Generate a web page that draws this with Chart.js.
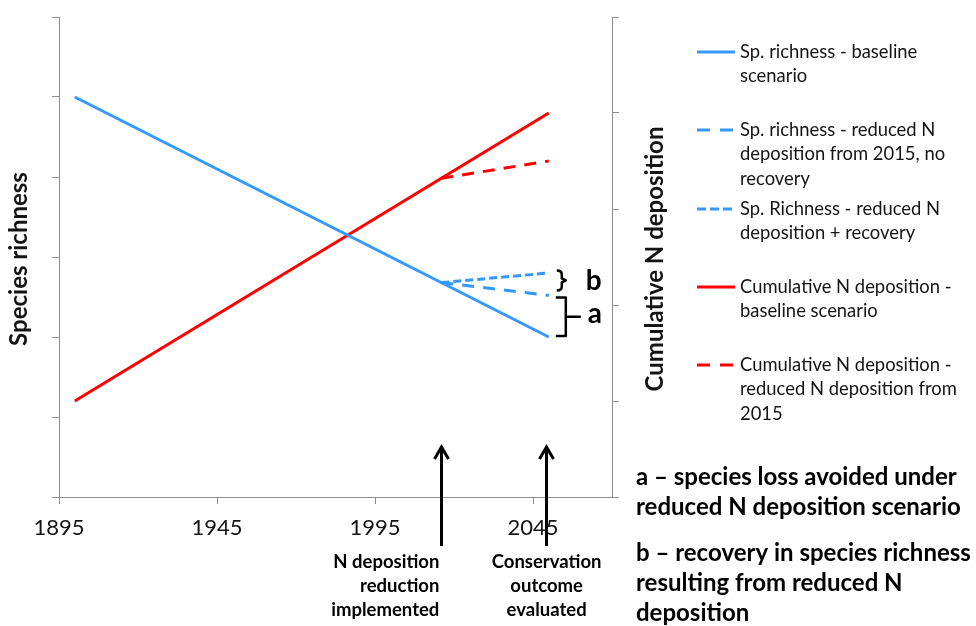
<!DOCTYPE html>
<html><head><meta charset="utf-8">
<script src="https://cdn.jsdelivr.net/npm/chart.js@4/dist/chart.umd.min.js"></script>
<style>html,body{margin:0;padding:0;background:#fff;}canvas{display:block}</style>
</head><body>
<canvas id="c" width="976" height="626"></canvas>
<script>
// ---- data ----
const xTickYears = [1895, 1945, 1995, 2045];
const baselineYears = [1900, 2050];
const reducedYears = [2016, 2050];
const richnessBaseline = [5, 2];
const richnessNoRecovery = [2.68, 2.52];
const richnessRecovery = [2.68, 2.8];
const depositionBaseline = [1, 4];
const depositionReduced = [3.32, 3.5];
const seriesNames = [
  ["Sp. richness - baseline", "scenario"],
  ["Sp. richness - reduced N", "deposition from 2015, no", "recovery"],
  ["Sp. Richness - reduced N", "deposition + recovery"],
  ["Cumulative N deposition -", "baseline scenario"],
  ["Cumulative N deposition -", "reduced N deposition from", "2015"]
];
const leftTitle = "Species richness";
const rightTitle = "Cumulative N deposition";
const arrowYears = [2016, 2049];
const arrowLabels = [["N deposition", "reduction", "implemented"], ["Conservation", "outcome", "evaluated"]];
const notes = [["a \u2013 species loss avoided under", "reduced N deposition scenario"],
               ["b \u2013 recovery in species richness", "resulting from reduced N", "deposition"]];

const BLUE = 'rgb(51,153,255)', RED = 'rgb(255,0,0)', AXIS = '#8c8c8c', TXT = '#141414';
const pts = (xs, ys) => xs.map((x, i) => ({x, y: ys[i]}));
const styles = [
  {color: BLUE, dash: [], axis: 'y'},
  {color: BLUE, dash: [12, 9], axis: 'y'},
  {color: BLUE, dash: [8, 4], axis: 'y'},
  {color: RED, dash: [], axis: 'y2'},
  {color: RED, dash: [12, 9], axis: 'y2'}
];
const seriesData = [
  pts(baselineYears, richnessBaseline),
  pts(reducedYears, richnessNoRecovery),
  pts(reducedYears, richnessRecovery),
  pts(baselineYears, depositionBaseline),
  pts(reducedYears, depositionReduced)
];
const datasets = seriesData.map((d, i) => ({
  label: seriesNames[i].join(' '),
  data: d,
  yAxisID: styles[i].axis,
  borderColor: styles[i].color,
  borderWidth: 3,
  borderDash: styles[i].dash,
  pointRadius: 0,
  fill: false,
  tension: 0
}));

const gridOpts = {drawOnChartArea: false, drawTicks: true, tickLength: 7, color: AXIS, lineWidth: 1};
const borderOpts = {color: AXIS, width: 1};

const annot = {
  id: 'annot',
  afterDatasetsDraw(chart) {
    const ctx = chart.ctx, xs = chart.scales.x, yl = chart.scales.y;
    ctx.save();
    const xe = xs.getPixelForValue(2050);
    const yRec = yl.getPixelForValue(richnessRecovery[1]);
    const yNo = yl.getPixelForValue(richnessNoRecovery[1]);
    const yBase = yl.getPixelForValue(richnessBaseline[1]);
    ctx.strokeStyle = '#000'; ctx.lineWidth = 2.5; ctx.lineJoin = 'round'; ctx.lineCap = 'butt';
    // b brace
    let t = yRec - 2.5, b = yNo - 5, m = (t + b) / 2;
    let x0 = xe + 8, x1 = xe + 13, x2 = xe + 17;
    ctx.beginPath();
    ctx.moveTo(x0, t); ctx.quadraticCurveTo(x1, t, x1, t + 4);
    ctx.lineTo(x1, m - 2); ctx.lineTo(x2, m); ctx.lineTo(x1, m + 2);
    ctx.lineTo(x1, b - 4); ctx.quadraticCurveTo(x1, b, x0, b);
    ctx.stroke();
    // a bracket
    t = yNo + 2; b = yBase - 1; m = (t + b) / 2;
    x0 = xe + 7; x1 = xe + 17;
    ctx.beginPath();
    ctx.moveTo(x0, t); ctx.lineTo(x1, t); ctx.lineTo(x1, b); ctx.lineTo(x0, b);
    ctx.moveTo(x1, m); ctx.lineTo(x1 + 15, m);
    ctx.stroke();
    ctx.fillStyle = '#000';
    ctx.font = 'bold 28px Lato';
    ctx.textAlign = 'left'; ctx.textBaseline = 'alphabetic';
    ctx.fillText('b', xe + 37, yRec + 17);
    ctx.fillText('a', xe + 39, m + 6);
    ctx.restore();
  },
  afterDraw(chart) {
    const ctx = chart.ctx, xs = chart.scales.x, ca = chart.chartArea;
    ctx.save();
    // axis titles
    ctx.fillStyle = TXT;
    ctx.font = 'bold 24px Lato';
    ctx.textAlign = 'center'; ctx.textBaseline = 'middle';
    const cy = (ca.top + ca.bottom) / 2 + 2;
    ctx.save(); ctx.translate(19, cy); ctx.rotate(-Math.PI / 2); ctx.fillText(leftTitle, 0, 0); ctx.restore();
    ctx.save(); ctx.translate(655, cy); ctx.rotate(-Math.PI / 2); ctx.fillText(rightTitle, 0, 0); ctx.restore();

    // arrows
    ctx.strokeStyle = '#000'; ctx.lineWidth = 3; ctx.lineCap = 'butt'; ctx.lineJoin = 'miter';
    arrowYears.forEach(yr => {
      const x = Math.round(xs.getPixelForValue(yr)) + 0.5;
      ctx.beginPath(); ctx.moveTo(x, 546); ctx.lineTo(x, 448); ctx.stroke();
      ctx.beginPath(); ctx.moveTo(x - 7, 459); ctx.lineTo(x, 447); ctx.lineTo(x + 7, 459); ctx.stroke();
    });
    // arrow labels
    ctx.font = 'bold 18.5px Lato'; ctx.fillStyle = '#000'; ctx.textBaseline = 'middle';
    const ax0 = xs.getPixelForValue(arrowYears[0]), ax1 = xs.getPixelForValue(arrowYears[1]);
    arrowLabels[0].forEach((s, i) => { ctx.textAlign = 'right'; ctx.fillText(s, ax0 - 2, 562 + i * 24); });
    arrowLabels[1].forEach((s, i) => { ctx.textAlign = 'center'; ctx.fillText(s, ax1 + 1, 562 + i * 24); });

    // notes
    ctx.font = 'bold 24px Lato'; ctx.textAlign = 'left';
    notes[0].forEach((s, i) => ctx.fillText(s, 636, 477 + i * 30));
    notes[1].forEach((s, i) => ctx.fillText(s, 636, 553 + i * 30));

    // legend
    const legendTops = [52, 130, 209, 287, 365];
    ctx.font = '18.4px Lato'; ctx.fillStyle = TXT; ctx.textAlign = 'left';
    seriesNames.forEach((lines, i) => {
      const y = legendTops[i];
      ctx.strokeStyle = styles[i].color; ctx.lineWidth = 3;
      ctx.setLineDash(styles[i].dash.length ? (i === 2 ? [9, 4] : [13, 10]) : []);
      ctx.beginPath(); ctx.moveTo(697, y); ctx.lineTo(735, y); ctx.stroke();
      ctx.setLineDash([]);
      lines.forEach((s, j) => ctx.fillText(s, 740, y + j * 24.5));
    });
    ctx.restore();
  }
};

new Chart(document.getElementById('c'), {
  type: 'line',
  data: {datasets},
  options: {
    responsive: false,
    animation: false,
    devicePixelRatio: 1,
    layout: {padding: {top: 17, left: 0, right: 0, bottom: 0}},
    plugins: {legend: {display: false}, tooltip: {enabled: false}},
    scales: {
      x: {
        type: 'linear', position: 'bottom', min: 1895, max: 2070,
        afterBuildTicks: s => { s.ticks = xTickYears.map(v => ({value: v})); },
        afterFit: s => { s.height = 129; },
        ticks: {font: {family: 'Lato', size: 22}, color: TXT, padding: 11, maxRotation: 0, autoSkip: false,
                callback: v => String(v)},
        grid: gridOpts, border: borderOpts
      },
      y: {
        type: 'linear', position: 'left', min: 0, max: 6,
        afterFit: s => { s.width = 59; },
        ticks: {stepSize: 1, display: false},
        grid: gridOpts, border: borderOpts
      },
      y2: {
        type: 'linear', position: 'right', min: 0, max: 5,
        afterFit: s => { s.width = 364; },
        ticks: {stepSize: 1, display: false},
        grid: gridOpts, border: borderOpts
      }
    }
  },
  plugins: [annot]
});
</script>
</body></html>
